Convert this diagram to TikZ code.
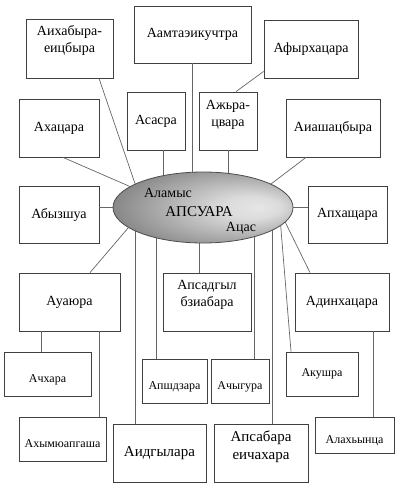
\documentclass[tikz,border=0pt]{standalone}
\usepackage{fontspec}
\setmainfont{Liberation Serif}
\newfontfamily\tnr{Liberation Serif}
\usetikzlibrary{shapes}

\pgfdeclareradialshading{ovalshade}{\pgfpoint{16bp}{0bp}}{color(0bp)=(black!10); color(8bp)=(black!14); color(38bp)=(black!57); color(50bp)=(black!68)}

\begin{document}
\begin{tikzpicture}[x=1pt,y=-1pt]
\tikzstyle{box} = [draw=black!75,line width=0.8pt,fill=white,inner sep=0pt,font=\tnr\fontsize{14}{17}\selectfont,align=center]
\tikzstyle{sbox} = [box,font=\tnr\fontsize{12}{13}\selectfont,text height=19pt,text depth=3pt]
\tikzstyle{txt} = [inner sep=0pt,font=\tnr\fontsize{14}{17}\selectfont,align=center]
\tikzstyle{conn} = [draw=black!60,line width=0.7pt]
\tikzstyle{oval} = [ellipse,draw=black!70,line width=0.8pt,minimum width=180pt,minimum height=71pt,inner sep=0pt,outer sep=0pt,shading=ovalshade]
\useasboundingbox (0,0) rectangle (400,489);
\coordinate (c) at (203,207.5);

% upper boxes
\node[box,minimum width=87pt,minimum height=59pt] (aihab) at (69.5,48.5) {};
\node[txt,anchor=north] (aihabt) at ([yshift=-7pt]aihab.north) {Аихабыра-\\еицбыра};
\node[box,minimum width=117pt,minimum height=57pt] (aamt) at (192.5,34.5) {Аамтаэикучтра};
\node[box,minimum width=94pt,minimum height=58pt] (afyr) at (311,49) {Афырхацара};
\node[box,minimum width=80pt,minimum height=58pt] (akhats) at (59,128) {Ахацара};
\node[box,minimum width=58pt,minimum height=58pt] (asasra) at (156,121) {Асасра};
\node[box,minimum width=58pt,minimum height=58pt] (azhra) at (228,121) {};
\node[txt,anchor=north] (azhrat) at ([yshift=-8pt]azhra.north) {Ажьра-\\цвара};
\node[box,minimum width=94pt,minimum height=58pt] (aiash) at (333,128) {Аиашацбыра};
\node[box,minimum width=80pt,minimum height=57pt] (abyz) at (59,214.5) {Абызшуа};
\node[box,minimum width=79pt,minimum height=57pt] (apkh) at (347.5,214.5) {Апхащара};

% lower boxes
\node[box,minimum width=101pt,minimum height=58pt] (auayu) at (69.5,302) {Ауаюра};
\node[box,minimum width=88pt,minimum height=58pt] (apsad) at (207,302) {};
\node[txt,anchor=north] (apsadt) at ([yshift=-7pt]apsad.north) {Апсадгыл\\бзиабара};
\node[box,minimum width=94pt,minimum height=58pt] (adinkh) at (342,302) {Адинхацара};
\node[sbox,minimum width=87pt,minimum height=44pt] (achkh) at (47.5,374) {Ачхара};
\node[sbox,minimum width=65pt,minimum height=44pt] (apshdz) at (174.5,381) {Апшдзара};
\node[sbox,minimum width=58pt,minimum height=44pt] (achyg) at (240,381) {Ачыгура};
\node[sbox,minimum width=72pt,minimum height=44pt,text height=8pt] (akush) at (322,374) {Акушра};
\node[sbox,minimum width=87pt,minimum height=44pt] (akhym) at (62.5,439) {Ахымюапгаша};
\node[sbox,minimum width=79pt,minimum height=36pt] (alakh) at (354.5,435) {Алахьынца};
\node[box,minimum width=93pt,minimum height=58pt,font=\tnr\fontsize{15}{17}\selectfont] (aidg) at (159.5,453) {Аидгылара};
\node[box,minimum width=94pt,minimum height=58pt] (apsab) at (261,453) {};
\node[txt,anchor=north,font=\tnr\fontsize{15}{18}\selectfont] (apsabt) at ([yshift=-7pt]apsab.north) {Апсабара\\еичахара};

% straight connectors, the oval covers their ends
\draw[conn] ([xshift=7pt]asasra.south) -- ([xshift=7pt]asasra.south |- c);
\draw[conn] (aamt.south) -- (aamt.south |- c);
\draw[conn] (azhra.south) -- (azhra.south |- c);
\draw[conn] (abyz.east |- c) -- (c);
\draw[conn] (apkh.west |- c) -- (c);
\draw[conn] ([xshift=-8pt]apsad.north) -- ([xshift=-8pt]apsad.north |- c);
\draw[conn] ([xshift=-18.5pt]apshdz.north) -- ([xshift=-18.5pt]apshdz.north |- c);
\draw[conn] ([xshift=14pt]achyg.north) -- ([xshift=14pt]achyg.north |- c);
\draw[conn] ([xshift=-24.5pt]aidg.north) -- ([xshift=-24.5pt]aidg.north |- c);
\draw[conn] ([xshift=11pt]apsab.north) -- ([xshift=11pt]apsab.north |- c);
\draw[conn] ([xshift=-6.5pt]achkh.north) -- ([xshift=-6.5pt]achkh.north |- auayu.south);
\draw[conn] ([xshift=36.5pt]akhym.north) -- ([xshift=36.5pt]akhym.north |- auayu.south);
\draw[conn] ([xshift=18.5pt]alakh.north) -- ([xshift=18.5pt]alakh.north |- adinkh.south);
\draw[conn] ([yshift=7pt]afyr.south west) -- ([xshift=8pt]azhra.north);

% centre
\node[oval] (ell) at (c) {};
\node[txt] (alamys) at ([xshift=-35pt,yshift=14.5pt]ell.center) {Аламыс};
\node[txt,font=\tnr\fontsize{15}{17}\selectfont] (apsuara) at ([xshift=-4pt,yshift=-4.5pt]ell.center) {АПСУАРА};
\node[txt] (atsas) at ([xshift=38pt,yshift=-20.5pt]ell.center) {Ацас};

% slanted connectors
\draw[conn] ([xshift=29.5pt]aihab.south) -- (ell.161);
\draw[conn] ([xshift=4pt]akhats.south) -- (ell.164);
\draw[conn] ([xshift=-27pt]aiash.south) -- (ell.19);
\draw[conn] ([xshift=20.5pt]auayu.north) -- (ell.195);
\draw[conn] ([xshift=-32pt]adinkh.north) -- (ell.-10);
\draw[conn] ([xshift=-31pt]akush.north) -- (ell.-13);
\end{tikzpicture}
\end{document}
